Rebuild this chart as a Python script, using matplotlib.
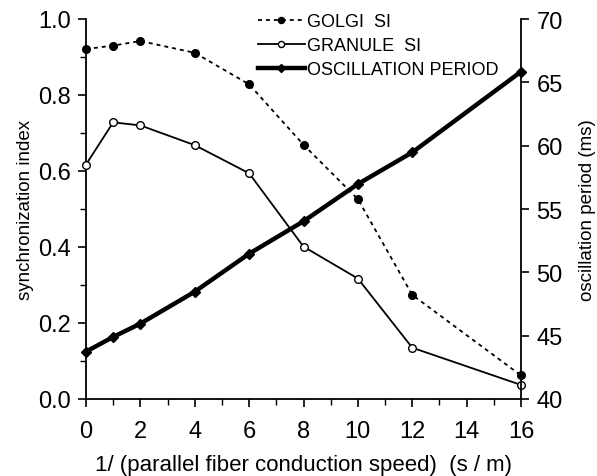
import matplotlib
matplotlib.use("Agg")
import matplotlib.pyplot as plt
from matplotlib.ticker import MultipleLocator

plt.rcParams['font.family'] = ['Liberation Sans', 'DejaVu Sans']

x = [0, 1, 2, 4, 6, 8, 10, 12, 16]
golgi_si = [0.921, 0.930, 0.942, 0.911, 0.828, 0.669, 0.526, 0.274, 0.062]
granule_si = [0.617, 0.728, 0.720, 0.668, 0.594, 0.401, 0.317, 0.135, 0.037]
osc_period = [43.74, 44.9, 45.95, 48.47, 51.47, 54.03, 56.97, 59.47, 65.84]

fig = plt.figure(figsize=(5.97, 4.77), dpi=100)
ax = fig.add_axes([86/597, 1-400/477, (521-86)/597, 380/477])
ax2 = ax.twinx()

l1, = ax.plot(x, golgi_si, color='black', linestyle=(0, (2.2, 2.2)), linewidth=1.3,
              marker='o', markersize=5.5, markerfacecolor='black', clip_on=False, zorder=3)
l2, = ax.plot(x, granule_si, color='black', linestyle='-', linewidth=1.3,
              marker='o', markersize=5.5, markerfacecolor='white', markeredgewidth=1.0,
              clip_on=False, zorder=3)
l3, = ax2.plot(x, osc_period, color='black', linestyle='-', linewidth=3.2,
               marker='D', markersize=5, markerfacecolor='black', clip_on=False, zorder=3)

ax.set_xlim(0, 16)
ax.set_ylim(0, 1.0)
ax2.set_ylim(40, 70)

ax.set_xticks([0, 2, 4, 6, 8, 10, 12, 14, 16])
ax.xaxis.set_minor_locator(MultipleLocator(1))
ax.set_yticks([0.0, 0.2, 0.4, 0.6, 0.8, 1.0])
ax.set_yticklabels(['0.0', '0.2', '0.4', '0.6', '0.8', '1.0'])
ax.yaxis.set_minor_locator(MultipleLocator(0.1))
ax2.set_yticks([40, 45, 50, 55, 60, 65, 70])

for a in (ax, ax2):
    a.spines['top'].set_visible(False)
    for s in a.spines.values():
        s.set_linewidth(1.3)
ax.spines['right'].set_visible(False)
ax2.spines['left'].set_visible(False)
ax2.spines['bottom'].set_visible(False)

ax.tick_params(axis='both', which='major', direction='out', length=6, width=1.2, labelsize=17, pad=5)
ax.tick_params(axis='x', which='major', pad=9)
ax.tick_params(axis='both', which='minor', direction='out', length=4, width=1.0)
ax2.tick_params(axis='y', which='major', direction='out', length=6, width=1.2, labelsize=17, pad=5)

ax.set_xlabel('1/ (parallel fiber conduction speed)  (s / m)', fontsize=16, labelpad=9)
ax.set_ylabel('synchronization index', fontsize=13.5, labelpad=3)
ax2.set_ylabel('oscillation period (ms)', fontsize=13.5, labelpad=12)

leg = ax.legend([l1, l2, l3], ['GOLGI  SI', 'GRANULE  SI', 'OSCILLATION PERIOD'],
                loc='upper left', bbox_to_anchor=(172/435, 1.016), frameon=False,
                fontsize=13, handlelength=2.6, handletextpad=0.1, labelspacing=0.40,
                borderaxespad=0, borderpad=0, markerscale=0.8)

fig.savefig('out.png', dpi=100)
